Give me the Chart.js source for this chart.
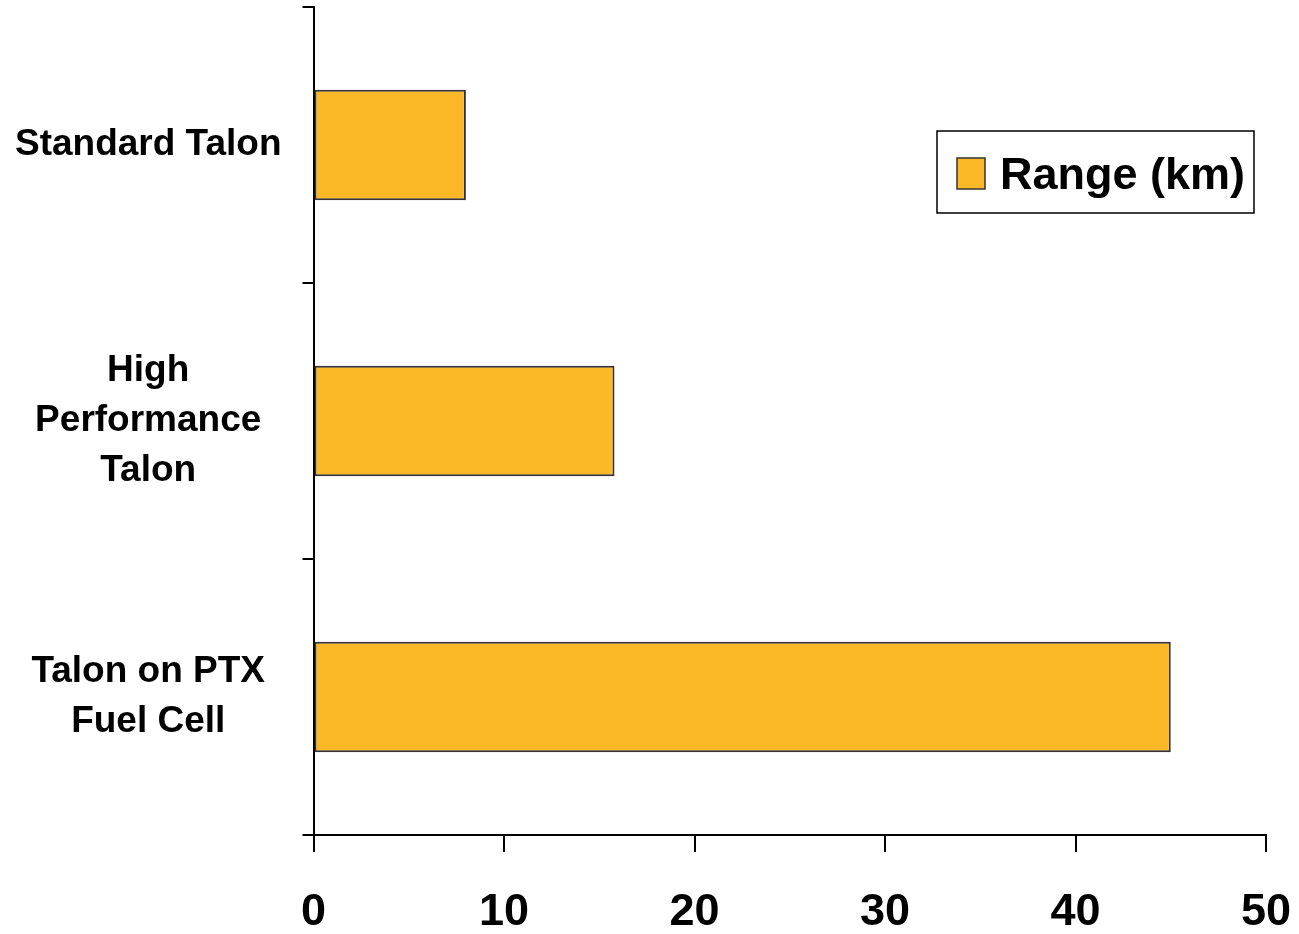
<!DOCTYPE html>
<html>
<head>
<meta charset="utf-8">
<script src="https://cdn.jsdelivr.net/npm/chart.js@4"></script>
<style>
  html, body { margin: 0; padding: 0; background: #fff; }
  #wrap { width: 1299px; height: 934px; position: relative; }
</style>
</head>
<body>
<div id="wrap"><canvas id="c"></canvas></div>
<script>
const categories = [
  'Standard Talon',
  ['High', 'Performance', 'Talon'],
  ['Talon on PTX', 'Fuel Cell']
];
const rangeKm = [8, 15.8, 45];
const seriesLabel = 'Range (km)';
const xMin = 0, xMax = 50, xStep = 10;

const FONT = '"Liberation Sans", Arial, sans-serif';
const BAR_FILL = '#FDB827';
const BAR_EDGE = '#333333';

const boxLegend = {
  id: 'boxLegend',
  afterDraw(chart) {
    const ctx = chart.ctx;
    const ca = chart.chartArea;
    const ds = chart.data.datasets[0];
    const w = 317, h = 82;
    const x = ca.right - 12 - w;
    const y = ca.top + 124;
    ctx.save();
    ctx.fillStyle = '#fff';
    ctx.fillRect(x, y, w, h);
    ctx.lineWidth = 1.5;
    ctx.strokeStyle = '#000';
    ctx.strokeRect(x, y, w, h);
    const sx = x + 20, sy = y + 27, sw = 28, sh = 31;
    ctx.fillStyle = ds.backgroundColor;
    ctx.fillRect(sx, sy, sw, sh);
    ctx.lineWidth = 1.5;
    ctx.strokeStyle = ds.borderColor;
    ctx.strokeRect(sx, sy, sw, sh);
    ctx.fillStyle = '#000';
    ctx.font = 'bold 45px ' + FONT;
    ctx.textAlign = 'left';
    ctx.textBaseline = 'middle';
    ctx.fillText(ds.label, x + 63, y + h / 2 + 5);
    ctx.restore();
  }
};

new Chart(document.getElementById('c'), {
  type: 'bar',
  data: {
    labels: categories,
    datasets: [{
      label: seriesLabel,
      data: rangeKm,
      backgroundColor: BAR_FILL,
      borderColor: BAR_EDGE,
      borderWidth: 2,
      borderSkipped: false,
      barPercentage: 0.4,
      categoryPercentage: 1.0
    }]
  },
  options: {
    indexAxis: 'y',
    responsive: true,
    maintainAspectRatio: false,
    animation: false,
    layout: { padding: { top: 7, right: 33, bottom: 0, left: 0 } },
    plugins: {
      legend: { display: false },
      tooltip: { enabled: false }
    },
    scales: {
      x: {
        type: 'linear',
        min: xMin, max: xMax,
        afterFit(s) { s.height = 99; s.paddingLeft = 0; s.paddingRight = 0; s.paddingTop = 0; s.paddingBottom = 0; },
        ticks: {
          stepSize: xStep,
          color: '#000',
          padding: 38,
          font: { family: FONT, size: 45, weight: 'bold', lineHeight: 1.0 }
        },
        grid: {
          drawOnChartArea: false,
          drawTicks: true,
          tickLength: 17,
          color: '#000',
          lineWidth: 2
        },
        border: { display: true, color: '#000', width: 2 }
      },
      y: {
        type: 'category',
        afterFit(s) { s.width = 313.5; s.paddingLeft = 0; s.paddingRight = 0; s.paddingTop = 0; s.paddingBottom = 0; },
        ticks: {
          color: '#000',
          crossAlign: 'center',
          padding: 21,
          font: { family: FONT, size: 37, weight: 'bold', lineHeight: 1.35 }
        },
        grid: {
          offset: true,
          drawOnChartArea: false,
          drawTicks: true,
          tickLength: 11,
          color: '#000',
          lineWidth: 2
        },
        border: { display: true, color: '#000', width: 2 }
      }
    }
  },
  plugins: [boxLegend]
});
</script>
</body>
</html>
